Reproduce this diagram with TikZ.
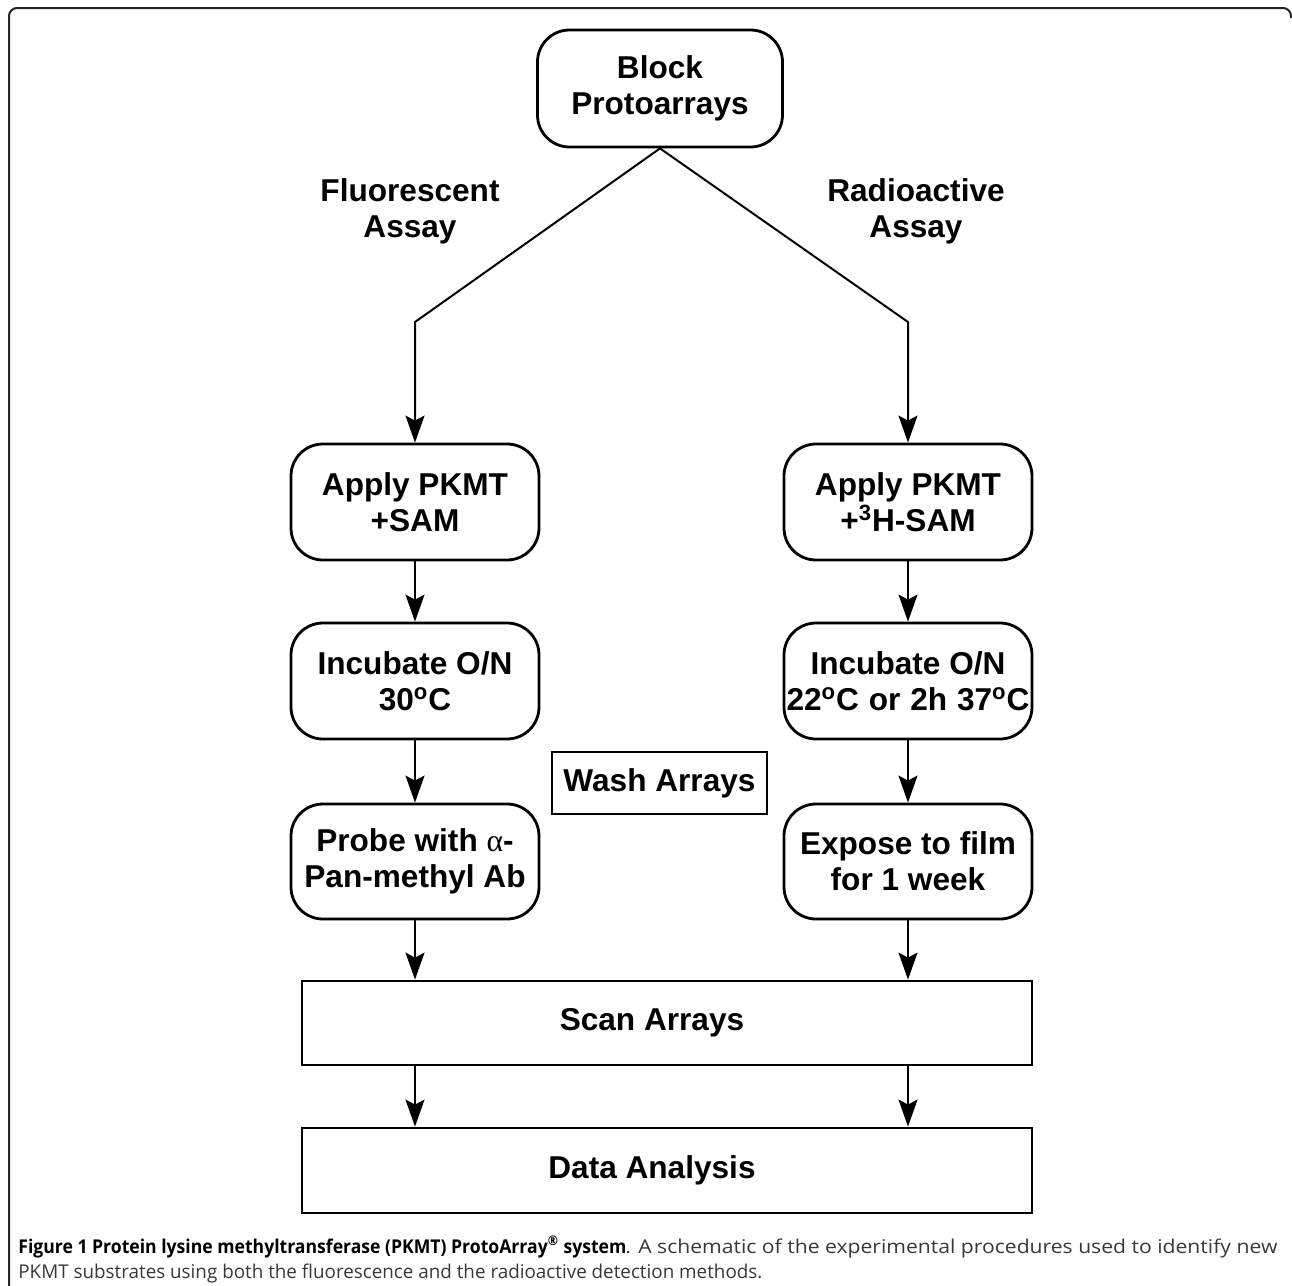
\documentclass[tikz,border=0pt]{standalone}
\usepackage{fontspec}
\setmainfont{Liberation Sans}
\newfontfamily\capfont{Open Sans}
\newfontfamily\greekserif{Liberation Serif}
\usetikzlibrary{arrows.meta}
\newsavebox\capboxA
\newsavebox\capboxB
\newsavebox\capboxC
\begin{document}
\sbox\capboxA{\capfont\fontsize{9.5}{10}\selectfont\bfseries Figure 1 Protein lysine methyltransferase (PKMT) ProtoArray\textsuperscript{®} system}%
\sbox\capboxB{\capfont\fontsize{9.5}{10}\selectfont\color{black!78}. A schematic of the experimental procedures used to identify new}%
\sbox\capboxC{\capfont\fontsize{9.5}{10}\selectfont\color{black!78}PKMT substrates using both the fluorescence and the radioactive detection methods.}%
\pgfmathsetmacro\capfacA{304/\the\wd\capboxA}%
\pgfmathsetmacro\capfacB{326/\the\wd\capboxB}%
\pgfmathsetmacro\capfacC{372/\the\wd\capboxC}%
\begin{tikzpicture}[x=0.5pt,y=-0.5pt,
  lbl/.style={font=\bfseries\fontsize{15.8}{18}\selectfont, align=center, inner sep=0pt},
  rbox/.style={lbl, draw, line width=1.4pt, rounded corners=16pt, minimum width=124pt, minimum height=58pt},
  plainbox/.style={draw, line width=1.3pt, inner sep=0pt},
  arr/.style={line width=1pt, -{Stealth[length=13.5pt,width=9.5pt,inset=2.5pt]}}]
\useasboundingbox (0,0) rectangle (1292,1286);
% frame
\draw[line width=1pt, black!85, rounded corners=4pt] (9,1290) -- (9,8) -- (1291,8) -- (1291,18);
% nodes
\node[rbox, minimum width=122.5pt, minimum height=58.5pt] (block) at (660,88.5) {Block\\Protoarrays};
\node[lbl] (fluor) at (410,211) {Fluorescent\\Assay};
\node[lbl] (radio) at (916,211) {Radioactive\\Assay};
\coordinate (kL) at (415,322);
\coordinate (kR) at (908,322);
\node[rbox] (apL) at (415,502) {Apply PKMT\\+SAM};
\node[rbox] (apR) at (908,502) {Apply PKMT\\+\textsuperscript{3}H-SAM};
\node[rbox] (incL) at (415,681) {Incubate O/N\\30\textsuperscript{o}C};
\node[rbox] (incR) at (908,681) {Incubate O/N\\\makebox[121.5pt][s]{22\textsuperscript{o}C or 2h 37\textsuperscript{o}C}};
\node[plainbox, lbl, draw, line width=1.2pt, minimum width=107.5pt, minimum height=31pt] (wash) at (659.5,783) {Wash Arrays};
\node[rbox, minimum height=57.5pt] (prL) at (415,861.5) {Probe with {\greekserif\mdseries α}-\\Pan-methyl Ab};
\node[rbox, minimum height=57.5pt] (prR) at (908,861.5) {Expose to film\\for 1 week};
\node[plainbox, line width=1.4pt, minimum width=365pt, minimum height=42pt] (scan) at (667,1023) {};
\node[lbl] (scant) at (652,1023) {Scan Arrays};
\node[plainbox, line width=1.4pt, minimum width=365pt, minimum height=42.5pt] (data) at (667,1170.5) {};
\node[lbl] (datat) at (652,1170.5) {Data Analysis};
% connectors
\draw[arr] (block.south) -- (kL) -- (apL.north);
\draw[arr] (block.south) -- (kR) -- (apR.north);
\draw[arr] (apL.south) -- (incL.north);
\draw[arr] (apR.south) -- (incR.north);
\draw[arr] (incL.south) -- (prL.north);
\draw[arr] (incR.south) -- (prR.north);
\draw[arr] (prL.south) -- (prL.south |- scan.north);
\draw[arr] (prR.south) -- (prR.south |- scan.north);
\draw[arr] (prL.south |- scan.south) -- (prL.south |- data.north);
\draw[arr] (prR.south |- scan.south) -- (prR.south |- data.north);
% caption
\node[anchor=base west, inner sep=0pt] (cap1) at (18,1253) {\scalebox{\capfacA}[1]{\usebox\capboxA}};
\node[anchor=base west, inner sep=0pt] (cap1b) at (625,1253) {\scalebox{\capfacB}[1]{\usebox\capboxB}};
\node[anchor=base west, inner sep=0pt] (cap2) at (18,1278) {\scalebox{\capfacC}[1]{\usebox\capboxC}};
\end{tikzpicture}
\end{document}
